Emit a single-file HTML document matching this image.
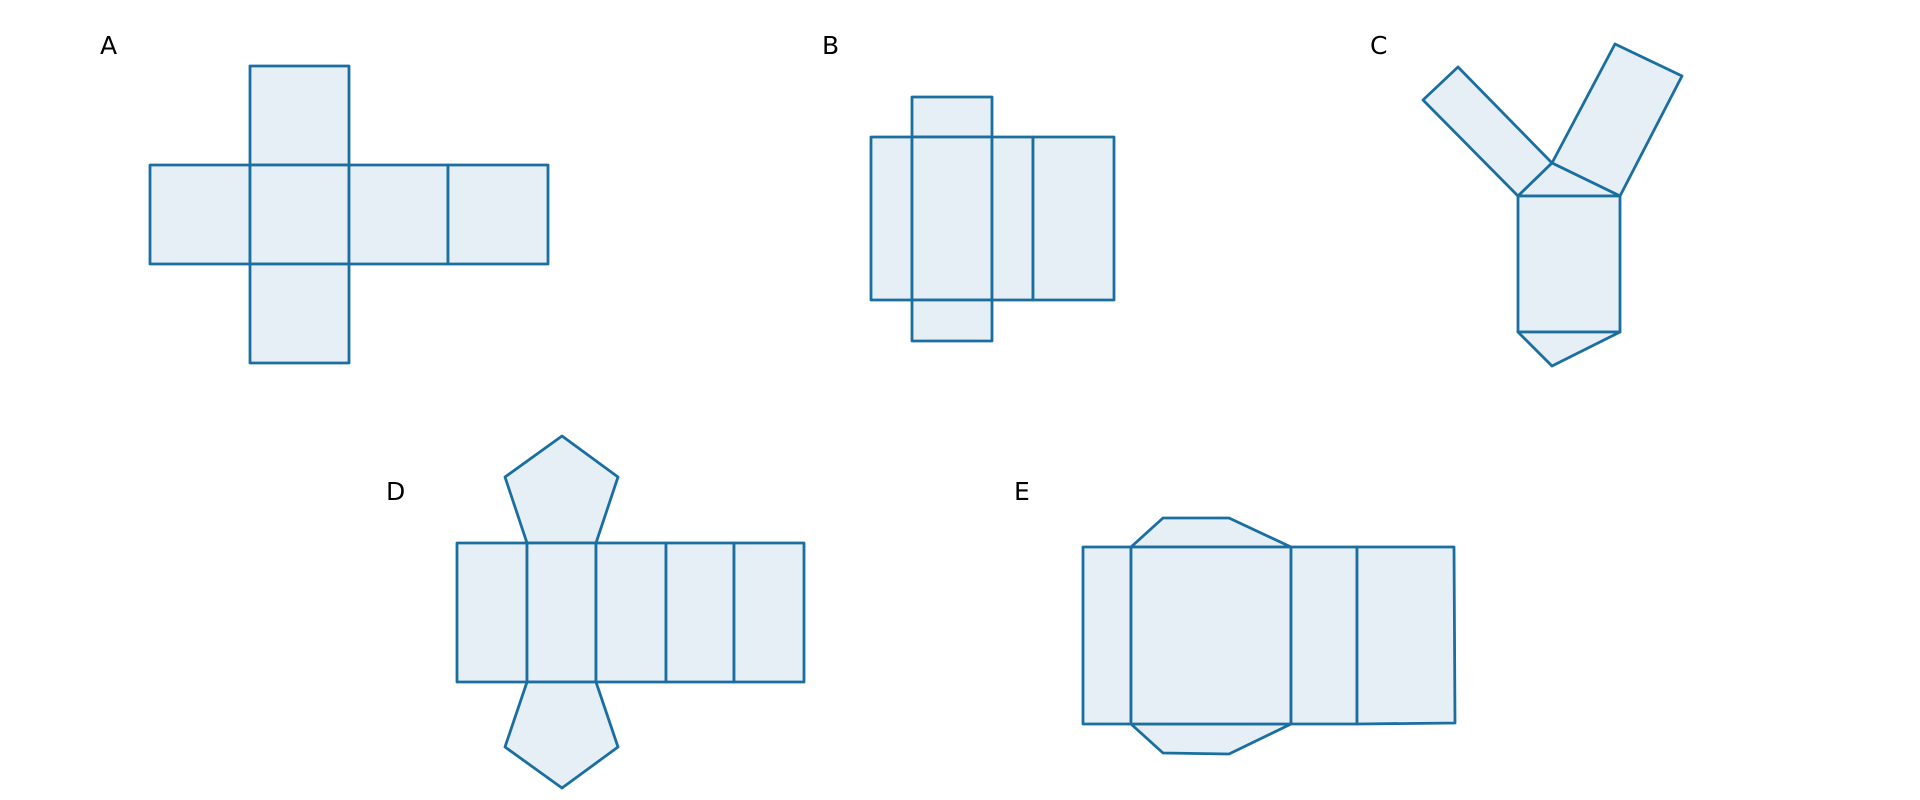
<!DOCTYPE html>
<html><head><style>body{margin:0;background:#fff}svg{display:block}</style></head><body>
<svg width="1920" height="800" xmlns="http://www.w3.org/2000/svg">
<g font-family="DejaVu Sans, Liberation Sans, sans-serif" font-size="25" fill="#000">
<text x="100" y="54">A</text><text x="822" y="54">B</text><text x="1370" y="54">C</text>
<text x="386" y="500">D</text><text x="1014" y="500">E</text>
</g>
<g fill="#e6eff6" stroke="#1a6fa0" stroke-width="2.8" stroke-linejoin="round">
<!-- A -->
<rect x="250" y="66" width="99" height="99"/>
<rect x="150" y="165" width="100" height="99"/>
<rect x="250" y="165" width="99" height="99"/>
<rect x="349" y="165" width="99" height="99"/>
<rect x="448" y="165" width="100" height="99"/>
<rect x="250" y="264" width="99" height="99"/>
<!-- B -->
<rect x="912" y="97" width="80" height="40"/>
<rect x="871" y="137" width="41" height="163"/>
<rect x="912" y="137" width="80" height="163"/>
<rect x="992" y="137" width="41" height="163"/>
<rect x="1033" y="137" width="81" height="163"/>
<rect x="912" y="300" width="80" height="41"/>
<!-- C -->
<polygon points="1423,100 1458,67 1552,163 1518,196"/>
<polygon points="1615,44 1682,76 1620,196 1552,163"/>
<polygon points="1518,196 1552,163 1620,196"/>
<rect x="1518" y="196" width="102" height="136"/>
<polygon points="1518,332 1552,366 1620,332"/>
<!-- D -->
<polygon points="527,543 505,477 562,436 618,477 596,543"/>
<rect x="457" y="543" width="70" height="139"/>
<rect x="527" y="543" width="69" height="139"/>
<rect x="596" y="543" width="70" height="139"/>
<rect x="666" y="543" width="68" height="139"/>
<rect x="734" y="543" width="70" height="139"/>
<polygon points="527,682 505,747 562,788 618,747 596,682"/>
<!-- E -->
<polygon points="1131,547 1163,518 1229,518 1291,547"/>
<polygon points="1131,724 1163,753 1229,754 1291,724"/>
<rect x="1083" y="547" width="48" height="177"/>
<rect x="1131" y="547" width="160" height="177"/>
<rect x="1291" y="547" width="66" height="177"/>
<polygon points="1357,547 1454,547 1455,723 1357,724"/>
</g>
</svg>
</body></html>
